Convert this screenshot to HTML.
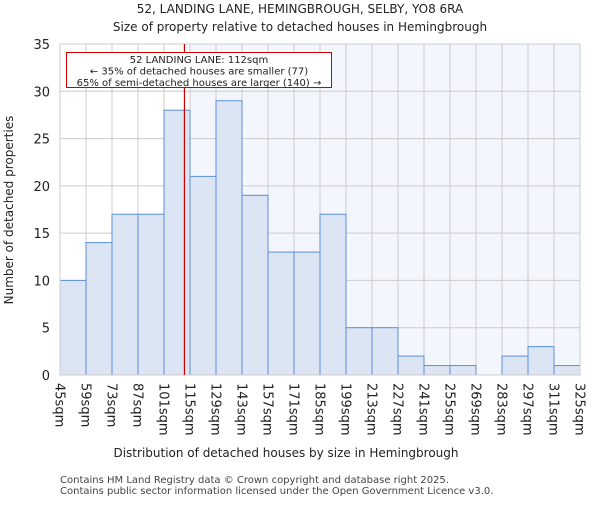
<!DOCTYPE html>
<html><head><meta charset="utf-8"><style>
body{margin:0;background:#fff;}
svg{font-family:"DejaVu Sans","Liberation Sans",sans-serif;}
</style></head><body>
<svg id="chart" width="600" height="500" xmlns="http://www.w3.org/2000/svg">
<text x="300" y="13" text-anchor="middle" font-size="12" fill="#222">52, LANDING LANE, HEMINGBROUGH, SELBY, YO8 6RA</text>
<text x="300" y="31" text-anchor="middle" font-size="12" fill="#222">Size of property relative to detached houses in Hemingbrough</text>
<g id="plot"></g>
<text x="286" y="457" text-anchor="middle" font-size="12" fill="#222">Distribution of detached houses by size in Hemingbrough</text>
<text transform="translate(13,210) rotate(-90)" text-anchor="middle" font-size="12" fill="#222">Number of detached properties</text>
<text x="60" y="483" font-size="10" fill="#444">Contains HM Land Registry data © Crown copyright and database right 2025.</text>
<text x="60" y="494" font-size="10" fill="#444">Contains public sector information licensed under the Open Government Licence v3.0.</text>
</svg>
<script>
const binStarts=[45,59,73,87,101,115,129,143,157,171,185,199,213,227,241,255,269,283,297,311];
const counts=[10,14,17,17,28,21,29,19,13,13,17,5,5,2,1,1,0,2,3,1];
const yTicks=[0,5,10,15,20,25,30,35];
const xTickLabels=["45sqm","59sqm","73sqm","87sqm","101sqm","115sqm","129sqm","143sqm","157sqm","171sqm","185sqm","199sqm","213sqm","227sqm","241sqm","255sqm","269sqm","283sqm","297sqm","311sqm","325sqm"];
const markerValue=112;
const binWidth=14;
const X0=60,X1=580,Y0=375,Y1=44,xMin=45,xMax=325,yMax=35;
const xs=v=>X0+(v-xMin)/(xMax-xMin)*(X1-X0);
const ys=v=>Y0-v/yMax*(Y0-Y1);
const NS="http://www.w3.org/2000/svg";
const g=document.getElementById('plot');
function mk(t,a){const e=document.createElementNS(NS,t);for(const k in a)e.setAttribute(k,a[k]);g.appendChild(e);return e;}
let bg=mk('rect',{x:X0,y:Y1,width:X1-X0,height:Y0-Y1,fill:'#fff'});


let hl=mk('rect',{x:xs(115),y:Y1,width:X1-xs(115),height:Y0-Y1,fill:'#f4f6fd'});


yTicks.forEach(t=>{
 let l=mk('line',{x1:X0,x2:X1,y1:ys(t),y2:ys(t),stroke:'#ccc','stroke-width':1});
 
 
 let tx=mk('text',{x:50,y:ys(t)+5,'text-anchor':'end','font-size':13,fill:'#222'});
 tx.textContent=t;
 
 
});
xTickLabels.forEach((lab,i)=>{
 const v=xMin+i*binWidth;
 let l=mk('line',{x1:xs(v),x2:xs(v),y1:Y1,y2:Y0,stroke:'#ccc','stroke-width':1});
 
 
 let tx=mk('text',{transform:`translate(${xs(v)-4.5},383) rotate(90)`,'font-size':13,fill:'#222'});
 tx.textContent=lab;
 
 
});
counts.forEach((c,i)=>{
 if(c<=0)return;
 const x=xs(binStarts[i]);
 let r=mk('rect',{x:x,y:ys(c),width:xs(binStarts[i]+binWidth)-x,height:Y0-ys(c),fill:'#dce5f4',stroke:'#5b8fd6','stroke-width':1});
 
 
});
let ax=mk('rect',{x:X0,y:Y1,width:X1-X0,height:Y0-Y1,fill:'none',stroke:'#ccc','stroke-width':1});


let ml=mk('line',{x1:xs(markerValue),x2:xs(markerValue),y1:Y1,y2:Y0,stroke:'#cc0000','stroke-width':1.2});


let box=mk('rect',{x:66.5,y:52.5,width:265,height:35,fill:'#fff',stroke:'#cc0000','stroke-width':1});


["52 LANDING LANE: 112sqm","← 35% of detached houses are smaller (77)","65% of semi-detached houses are larger (140) →"].forEach((s,i)=>{
 let t=mk('text',{x:199,y:63+i*11.5,'text-anchor':'middle','font-size':10,fill:'#222'});
 t.textContent=s;
 
 
});
</script>
</body></html>
